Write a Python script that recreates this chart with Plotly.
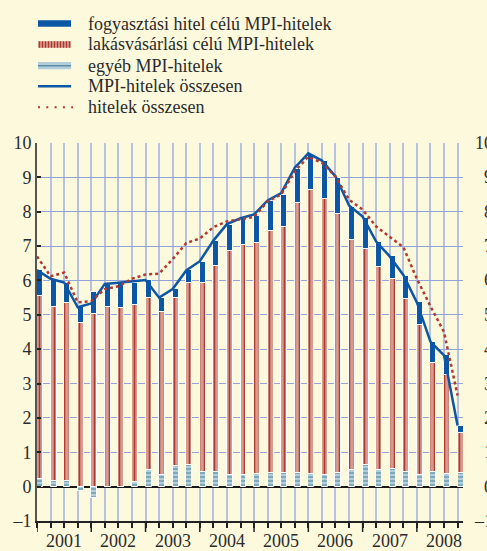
import plotly.graph_objects as go

# Quarterly data, 2001 Q1 - 2008 Q4 (percentage)
years = ["2001", "2002", "2003", "2004", "2005", "2006", "2007", "2008"]

egyeb = [0.21, 0.15, 0.15, -0.12, -0.34, 0.00, 0.00, 0.13,
         0.49, 0.33, 0.60, 0.62, 0.44, 0.42, 0.33, 0.34,
         0.36, 0.41, 0.39, 0.41, 0.37, 0.34, 0.41, 0.49,
         0.63, 0.49, 0.51, 0.44, 0.34, 0.42, 0.37, 0.39]

lakas = [5.35, 5.09, 5.19, 4.76, 5.02, 5.22, 5.20, 5.16,
         5.00, 4.74, 4.89, 5.30, 5.50, 6.01, 6.52, 6.70,
         6.73, 7.02, 7.17, 7.83, 8.27, 8.04, 7.51, 6.68,
         6.29, 5.89, 5.53, 5.02, 4.37, 3.17, 2.88, 1.18]

fogy = [0.73, 0.78, 0.60, 0.50, 0.63, 0.66, 0.72, 0.65,
        0.51, 0.42, 0.26, 0.37, 0.60, 0.71, 0.77, 0.75,
        0.80, 0.87, 0.94, 1.01, 1.02, 1.09, 1.07, 0.97,
        0.90, 0.73, 0.66, 0.68, 0.65, 0.63, 0.58, 0.20]

mpi_total = [6.30, 6.05, 5.94, 5.22, 5.33, 5.90, 5.93, 5.96,
             6.01, 5.50, 5.75, 6.29, 6.56, 7.16, 7.64, 7.81,
             7.92, 8.33, 8.54, 9.28, 9.70, 9.49, 9.03, 8.18,
             7.86, 7.13, 6.70, 6.16, 5.36, 4.22, 3.82, 1.78]

hitel_total = [6.70, 6.12, 6.23, 5.36, 5.40, 5.75, 5.83, 6.05,
               6.17, 6.20, 6.62, 7.09, 7.22, 7.55, 7.72, 7.79,
               7.85, 8.30, 8.50, 9.18, 9.60, 9.42, 9.03, 8.35,
               8.06, 7.57, 7.28, 6.97, 6.05, 5.25, 4.50, 2.65]

names = ["fogyasztási hitel célú MPI-hitelek",
         "lakásvásárlási célú MPI-hitelek",
         "egyéb MPI-hitelek",
         "MPI-hitelek összesen",
         "hitelek összesen"]

y_ticks = list(range(-1, 11))
y_labels = ["–1" if v < 0 else str(v) for v in y_ticks]

x = list(range(len(lakas)))

# colours
BG = "#fdf9dc"
BLUE = "#0b56a5"
RED = "#b0392f"
PINK = "#d69a8e"
GREY_BLUE = "#b3cddb"
TEAL = "#5a8fa6"
HGRID = "#93a3da"
VGRID = "#b7c1e0"
FONT = "Liberation Serif"
TXT = "#2b2b2b"

W, H = 487, 551
ML, MR, MT, MB = 37, 24, 143, 30
PW, PH = W - ML - MR, H - MT - MB


def fx(p):
    return (p - ML) / PW


def fy(p):
    return (MT + PH - p) / PH


fig = go.Figure()

bar_common = dict(x=x, width=0.44, offset=0, showlegend=False)

fig.add_trace(go.Bar(
    y=egyeb, name=names[2], **bar_common,
    marker=dict(color=GREY_BLUE,
                pattern=dict(shape="-", fgcolor=TEAL, bgcolor=GREY_BLUE,
                             size=4, solidity=0.3),
                line=dict(color="white", width=1)),
))
fig.add_trace(go.Bar(
    y=lakas, name=names[1], **bar_common,
    marker=dict(color=PINK,
                pattern=dict(shape="|", fgcolor=RED, bgcolor=PINK,
                             size=5, solidity=0.3),
                line=dict(color="white", width=1)),
))
fig.add_trace(go.Bar(
    y=fogy, name=names[0], **bar_common,
    marker=dict(color=BLUE, line=dict(color="white", width=1)),
))
fig.add_trace(go.Scatter(
    x=x, y=mpi_total, name=names[3], mode="lines", showlegend=False,
    line=dict(color=BLUE, width=2.5),
))
fig.add_trace(go.Scatter(
    x=x, y=hitel_total, name=names[4], mode="lines", showlegend=False,
    line=dict(color=RED, width=2.5, dash="dot"),
))

x_range = [0, 31.4]
y_range = [-1, 10]

# hand-drawn legend block at the top-left
shapes = []
annotations = []
rows = [23.5, 44.5, 65.7, 86.3, 107.3]
sx0, sx1 = 38, 71

# 1: solid blue key
shapes.append(dict(type="rect", xref="paper", yref="paper",
                   x0=fx(sx0), x1=fx(sx1), y0=fy(rows[0] + 3.2), y1=fy(rows[0] - 3.2),
                   fillcolor=BLUE, line=dict(width=0)))
# 2: striped red key
shapes.append(dict(type="rect", xref="paper", yref="paper",
                   x0=fx(sx0), x1=fx(sx1), y0=fy(rows[1] + 3.3), y1=fy(rows[1] - 3.3),
                   fillcolor=PINK, line=dict(width=0)))
for k in range(11):
    xs = sx0 + 1.5 + 3 * k
    shapes.append(dict(type="line", xref="paper", yref="paper",
                       x0=fx(xs), x1=fx(xs), y0=fy(rows[1] + 3.3), y1=fy(rows[1] - 3.3),
                       line=dict(color=RED, width=1.3)))
# 3: grey-blue key with middle stroke
shapes.append(dict(type="rect", xref="paper", yref="paper",
                   x0=fx(sx0), x1=fx(sx1), y0=fy(rows[2] + 3.6), y1=fy(rows[2] - 3.6),
                   fillcolor=GREY_BLUE, line=dict(width=0)))
shapes.append(dict(type="line", xref="paper", yref="paper",
                   x0=fx(sx0), x1=fx(sx1), y0=fy(rows[2]), y1=fy(rows[2]),
                   line=dict(color=TEAL, width=1.5)))
# 4: solid line key
shapes.append(dict(type="line", xref="paper", yref="paper",
                   x0=fx(sx0), x1=fx(sx1), y0=fy(rows[3]), y1=fy(rows[3]),
                   line=dict(color=BLUE, width=2.5)))
# 5: dotted line key
shapes.append(dict(type="line", xref="paper", yref="paper",
                   x0=fx(sx0), x1=fx(sx1 + 2), y0=fy(rows[4]), y1=fy(rows[4]),
                   line=dict(color=RED, width=2, dash="2px,6.3px")))

# longer tick marks at the year boundaries of the time axis
for k in range(len(years)):
    shapes.append(dict(type="line", xref="x", yref="paper",
                       x0=4 * k, x1=4 * k, y0=0, y1=fy(PH + MT + 11),
                       line=dict(color="#222", width=1.5)))

for name, r in zip(names, rows):
    annotations.append(dict(xref="paper", yref="paper", x=fx(86), y=fy(r),
                            xanchor="left", yanchor="middle", showarrow=False,
                            text=name, font=dict(family=FONT, size=18, color=TXT)))

# right-hand value labels (right aligned, run off the page edge)
for v, lab in zip(y_ticks, y_labels):
    annotations.append(dict(xref="paper", yref="y", x=fx(495), y=v,
                            xanchor="right", yanchor="middle", showarrow=False,
                            text=lab, font=dict(family=FONT, size=18, color=TXT)))

# year labels centred under each four-quarter span
for k, yr in enumerate(years):
    annotations.append(dict(xref="x", yref="paper", x=4 * k + 2, y=fy(541),
                            xanchor="center", yanchor="middle", showarrow=False,
                            text=yr, font=dict(family=FONT, size=18, color=TXT)))

fig.update_layout(
    template="none",
    width=W, height=H,
    margin=dict(l=ML, r=MR, t=MT, b=MB, pad=0),
    paper_bgcolor=BG, plot_bgcolor=BG,
    barmode="relative", bargap=0,
    showlegend=False,
    font=dict(family=FONT, size=18, color=TXT),
    shapes=shapes,
    annotations=annotations,
    xaxis=dict(
        range=x_range, automargin=False,
        tickmode="linear", tick0=0, dtick=1,
        ticks="outside", ticklen=5, tickwidth=1.5, tickcolor="#222",
        showticklabels=False,
        showgrid=True, gridcolor=VGRID, gridwidth=1.5,
        showline=True, linecolor="#222", linewidth=1.5,
        zeroline=False,
    ),
    yaxis=dict(
        range=y_range, automargin=False,
        tickmode="array", tickvals=y_ticks, ticktext=y_labels,
        ticks="inside", ticklen=4, tickwidth=1.5, tickcolor="#222",
        tickfont=dict(family=FONT, size=18, color=TXT),
        showgrid=True, gridcolor=HGRID, gridwidth=1.2,
        zeroline=True, zerolinecolor="#1a1a1a", zerolinewidth=1.5,
        showline=True, linecolor="#555", linewidth=2,
    ),
    yaxis2=dict(
        overlaying="y", side="right", range=y_range, automargin=False,
        tickmode="array", tickvals=y_ticks,
        ticks="inside", ticklen=4, tickwidth=1.5, tickcolor="#222",
        showticklabels=False,
        showgrid=False, zeroline=False,
        showline=True, linecolor="#7d7d7d", linewidth=2.5,
    ),
)

fig.write_html("out.html")
